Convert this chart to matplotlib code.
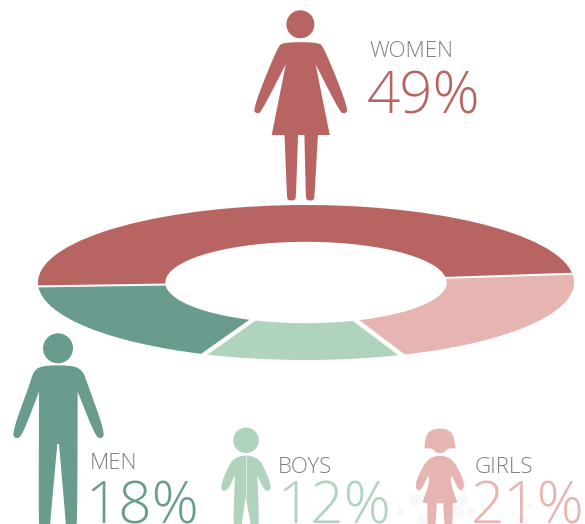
import numpy as np
import matplotlib
matplotlib.use('Agg')
import matplotlib.pyplot as plt
from matplotlib.patches import Polygon, Circle

plt.rcParams['font.family'] = ['Open Sans', 'DejaVu Sans']

# Data
groups = ['WOMEN', 'MEN', 'BOYS', 'GIRLS']
shares = [49, 18, 12, 21]
colors = ['#B86463', '#699C8E', '#B0D3BE', '#E6B4B1']
start_angle = 6.5

W, H = 585, 524
fig = plt.figure(figsize=(W / 100, H / 100), dpi=100)

# Donut: squashed pie, axes box matches the ellipse
ax = fig.add_axes([38 / W, 1 - 360 / H, 536 / W, 155 / H])
ax.pie(shares, colors=colors, startangle=start_angle, counterclock=True,
       radius=1, wedgeprops=dict(width=0.475, linewidth=0))
ax.set_aspect('auto')
ax.set_xlim(-1, 1)
ax.set_ylim(-1, 1)

# White gaps between slices, thin where the ring is flattened
gap = 0.013
for c in np.cumsum(shares):
    a = np.radians(start_angle + c * 3.6)
    d = np.array([np.cos(a), np.sin(a)])
    p = np.array([-d[1], d[0]]) * gap
    ax.add_patch(Polygon([0.45 * d + p, 1.05 * d + p, 1.05 * d - p, 0.45 * d - p],
                         fc='white', ec='none', zorder=5, clip_on=False))

# Overlay in pixel coordinates for the icons and the labels
ov = fig.add_axes([0, 0, 1, 1])
ov.set_xlim(0, W)
ov.set_ylim(H, 0)
ov.axis('off')
ov.patch.set_alpha(0)


def shape(points, x0, y0, s, color):
    # corner cutting rounds the outline, a point listed twice stays sharp
    pts = np.array(points, dtype=float)
    for _ in range(3):
        nxt = np.roll(pts, -1, axis=0)
        pts = np.column_stack([0.75 * pts + 0.25 * nxt, 0.25 * pts + 0.75 * nxt]).reshape(-1, 2)
    pts = pts / s + [x0, y0]
    ov.add_patch(Polygon(pts, closed=True, fc=color, ec='none'))


# Faint speckle behind the girl
for x, y, r in [(400, 512, 4), (415, 500, 6), (463, 500, 6), (458, 513, 6), (470, 512, 5),
                (463, 483, 4), (530, 507, 3), (423, 520, 6), (523, 520, 5), (445, 490, 6)]:
    ov.add_patch(Circle((x, y), r, fc='#F6F9F7', ec='none'))

# Woman
s, x0, y0 = 2.963, 229.5, 0
ov.add_patch(Circle((x0 + 210 / s, 72 / s), 14, fc=colors[0], ec='none'))
shape([(160, 125), (262, 125), (280, 140), (354, 325), (340, 338), (326, 330),
       (255, 190), (255, 190), (297, 400), (297, 400), (262, 400), (262, 400),
       (252, 578), (250, 594), (228, 594), (226, 578), (222, 400), (222, 400),
       (203, 400), (203, 400), (197, 578), (195, 594), (172, 594), (170, 578),
       (163, 400), (163, 400), (125, 400), (125, 400), (167, 190), (167, 190),
       (95, 330), (82, 338), (68, 325), (142, 140)], x0, y0, s, colors[0])

# Man
s, x0, y0 = 3.0, 0, 320
ov.add_patch(Circle((174 / s, y0 + 85 / s), 15, fc=colors[1], ec='none'))
shape([(125, 136), (222, 136), (250, 155), (262, 190), (316, 340), (303, 358), (285, 346),
       (233, 215), (233, 215), (232, 590), (228, 625), (198, 625), (196, 590),
       (177, 372), (177, 372), (172, 372), (172, 372), (152, 590), (150, 625), (118, 625),
       (116, 590), (117, 215), (117, 215), (67, 346), (48, 358), (35, 340), (90, 190),
       (100, 155)], x0, y0, s, colors[1])

# Boy
ov.add_patch(Circle((738 / s, y0 + 361 / s), 12.8, fc=colors[2], ec='none'))
shape([(738, 404), (700, 415), (680, 450), (661, 500), (670, 516), (688, 503),
       (705, 465), (705, 465), (700, 600), (703, 622), (725, 622), (727, 600),
       (737, 530), (737, 530), (750, 600), (752, 622), (775, 622), (777, 600),
       (772, 465), (772, 465), (788, 503), (804, 516), (815, 500), (796, 450),
       (776, 415)], x0, y0, s, colors[2])
ov.plot([738 / s, 738 / s], [y0 + 408 / s, y0 + 530 / s], color='#DDEBE2', lw=0.7)

# Girl
s, x0, y0 = 3.0, 290, 320
shape([(403, 385), (403, 385), (408, 345), (425, 329), (450, 325), (475, 329), (490, 345),
       (497, 385), (497, 385), (472, 385), (462, 399), (438, 399), (428, 385)],
      x0, y0, s, colors[3])
shape([(450, 405), (415, 415), (390, 455), (374, 497), (385, 514), (398, 503),
       (415, 465), (415, 465), (418, 490), (397, 548), (397, 548), (412, 550), (412, 550),
       (412, 600), (414, 618), (436, 618), (438, 600), (440, 550), (440, 550),
       (460, 550), (460, 550), (462, 600), (464, 618), (486, 618), (488, 600),
       (488, 550), (488, 550), (502, 548), (502, 548), (482, 490), (485, 465), (485, 465),
       (502, 503), (513, 514), (525, 497), (510, 455), (485, 415)], x0, y0, s, colors[3])

# Labels
label_pos = [(369, 57), (90, 469), (278, 473), (475, 473)]
value_pos = [(367, 113), (85, 523), (277, 523), (471, 523)]
for g, v, c, lp, vp in zip(groups, shares, colors, label_pos, value_pos):
    ov.text(lp[0], lp[1], g, fontsize=16, color='#7F7F7F', fontweight='light',
            ha='left', va='baseline')
    ov.text(vp[0], vp[1], f'{v}%', fontsize=42, color=c, fontweight='light',
            ha='left', va='baseline')

fig.savefig('out.png', dpi=100)
